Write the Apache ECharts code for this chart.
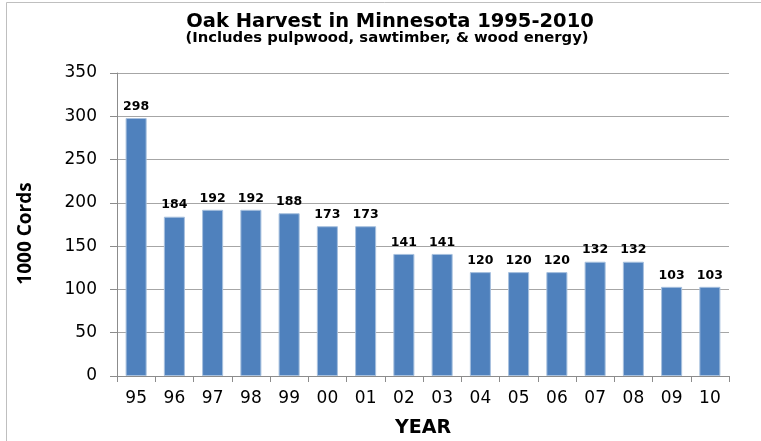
<!DOCTYPE html>
<html>
<head>
<meta charset="utf-8">
<script src="https://cdn.jsdelivr.net/npm/echarts@6/dist/echarts.min.js"></script>
<style>
  html, body { margin: 0; padding: 0; background: #fff; }
  #chart { width: 761px; height: 441px; }
</style>
</head>
<body>
<div id="chart"></div>
<script>
// Oak harvest volume by year (thousand cords)
const years = ['95', '96', '97', '98', '99', '00', '01', '02', '03', '04', '05', '06', '07', '08', '09', '10'];
const harvest = [298, 184, 192, 192, 188, 173, 173, 141, 141, 120, 120, 120, 132, 132, 103, 103];
const yTicks = { min: 0, max: 350, interval: 50 };

const chart = echarts.init(document.getElementById('chart'), null, { renderer: 'canvas' });

const wideFont = '"DejaVu Sans", Verdana, sans-serif';
const narrowFont = '"Open Sans", "DejaVu Sans", sans-serif';

chart.setOption({
  animation: false,
  backgroundColor: '#ffffff',
  graphic: [{
    type: 'rect',
    shape: { x: 6.5, y: 2.5, width: 900, height: 600 },
    style: { fill: 'none', stroke: '#bfbfbf', lineWidth: 1 },
    silent: true
  }],
  title: [{
    text: 'Oak Harvest in Minnesota 1995-2010',
    left: 385, top: 7, textAlign: 'center',
    textStyle: { fontFamily: wideFont, fontWeight: 'bold', fontSize: 19.5, color: '#000' }
  }, {
    text: '(Includes pulpwood, sawtimber, & wood energy)',
    left: 382, top: 26, textAlign: 'center',
    textStyle: { fontFamily: wideFont, fontWeight: 'bold', fontSize: 14.8, color: '#000' }
  }],
  grid: { left: 117, right: 32, top: 73, bottom: 65, containLabel: false, outerBoundsMode: 'none' },
  xAxis: {
    type: 'category',
    data: years,
    name: 'YEAR',
    nameLocation: 'middle',
    nameGap: 43,
    nameTextStyle: { fontFamily: wideFont, fontWeight: 'bold', fontSize: 19, color: '#000' },
    axisLine: { show: true, lineStyle: { color: '#8c8c8c', width: 1 } },
    axisTick: { show: true, alignWithLabel: false, length: 6, lineStyle: { color: '#8c8c8c' } },
    axisLabel: { margin: 14, fontFamily: wideFont, fontSize: 17, color: '#000' },
    splitLine: { show: false }
  },
  yAxis: {
    type: 'value',
    min: yTicks.min, max: yTicks.max, interval: yTicks.interval,
    name: '1000 Cords',
    nameLocation: 'middle',
    nameGap: 82,
    nameRotate: 90,
    nameTextStyle: { fontFamily: narrowFont, fontWeight: 'bold', fontSize: 19, color: '#000', padding: [0, 18, 0, 0] },
    axisLine: { show: true, lineStyle: { color: '#8c8c8c', width: 1 } },
    axisTick: { show: true, inside: false, length: 7, lineStyle: { color: '#8c8c8c' } },
    axisLabel: { margin: 20, fontFamily: wideFont, fontSize: 17, color: '#000' },
    splitLine: { show: true, lineStyle: { color: '#a6a6a6', width: 1 } }
  },
  series: [{
    type: 'bar',
    data: harvest,
    barCategoryGap: '45%',
    itemStyle: { color: '#4f81bd', borderColor: '#a7c0de', borderWidth: 1 },
    label: {
      show: true,
      position: 'top',
      distance: 5,
      fontFamily: wideFont,
      fontWeight: 'bold',
      fontSize: 12.5,
      color: '#000'
    }
  }]
});
</script>
</body>
</html>
